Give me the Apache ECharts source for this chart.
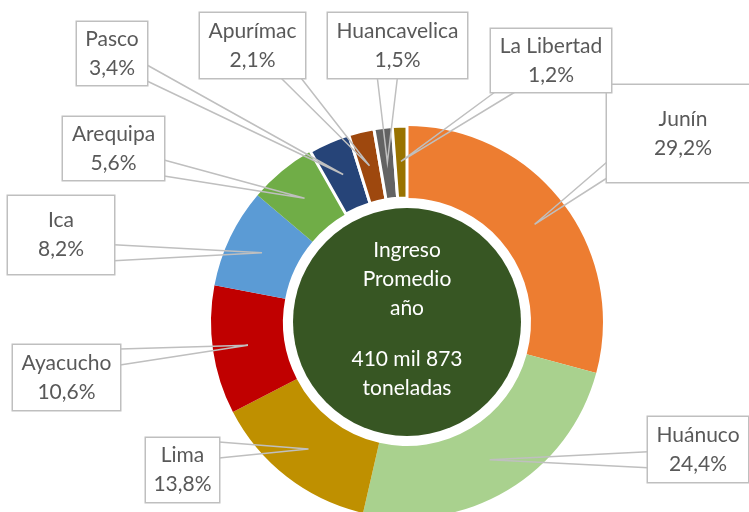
<!DOCTYPE html>
<html>
<head>
<meta charset="utf-8">
<script src="https://cdn.jsdelivr.net/npm/echarts@6/dist/echarts.min.js"></script>
<style>
    html, body { margin: 0; padding: 0; background: #ffffff; }
    #donutChart { width: 749px; height: 512px; }
</style>
</head>
<body>
<div id="donutChart"></div>
<script>
// participación (%) de cada región en el ingreso promedio anual
const regiones = ['Junín', 'Huánuco', 'Lima', 'Ayacucho', 'Ica', 'Arequipa', 'Pasco', 'Apurímac', 'Huancavelica', 'La Libertad'];
const participacion = [29.2, 24.4, 13.8, 10.6, 8.2, 5.6, 3.4, 2.1, 1.5, 1.2];
const colores = ['#ED7D31', '#A9D18E', '#BF9000', '#C00000', '#5B9BD5', '#70AD47', '#264478', '#9E480E', '#636363', '#997300'];
const textoCentro = ['Ingreso', 'Promedio', 'año', '410 mil 873', 'toneladas'];

// layout
const CENTRO = [407, 322];
const RADIO = [124, 196];
const RADIO_CIRCULO = 114;
const LH = 29;
const FUENTE = 'Lato';
// cajas de etiquetas: [izquierda, arriba, ancho, alto]
const cajas = {
    'Junín':        [607, 85, 152, 97],
    'Huánuco':      [648, 417, 100, 65],
    'Lima':         [146, 438, 73, 64],
    'Ayacucho':     [13, 345, 107, 65],
    'Ica':          [8, 196, 106, 78],
    'Arequipa':     [63, 117, 101, 63],
    'Pasco':        [77, 22, 70, 63],
    'Apurímac':     [200, 13, 105, 65],
    'Huancavelica': [328, 13, 139, 65],
    'La Libertad':  [491, 29, 120, 63]
};

function fmt(v) {
    return v.toFixed(1).replace('.', ',') + '%';
}

// punta del puntero dentro del sector
function punta(params) {
    let p0 = params.labelLinePoints && params.labelLinePoints[0];
    if (!p0) {
        const total = participacion.reduce((a, b) => a + b, 0);
        let acum = 0;
        for (let i = 0; i < params.dataIndex; i++) acum += participacion[i];
        const ang = (90 - 360 * (acum + participacion[params.dataIndex] / 2) / total) * Math.PI / 180;
        p0 = [CENTRO[0] + RADIO[1] * Math.cos(ang), CENTRO[1] - RADIO[1] * Math.sin(ang)];
    }
    const k = 0.82;
    return [CENTRO[0] + (p0[0] - CENTRO[0]) * k, CENTRO[1] + (p0[1] - CENTRO[1]) * k];
}

function clamp(v, a, b) { return Math.max(a, Math.min(b, v)); }

// sectores de color
const sectores = regiones.map(function (nombre, i) {
    return {
        name: nombre,
        value: participacion[i],
        itemStyle: i >= 6 ? { color: colores[i], borderColor: '#ffffff', borderWidth: 3 } : { color: colores[i] }
    };
});

// misma serie, transparente, solo para etiquetas y punteros (por encima)
const etiquetas = regiones.map(function (nombre, i) {
    const c = cajas[nombre];
    const pv = (c[3] - 2 * LH) / 2;
    return {
        name: nombre,
        value: participacion[i],
        label: {
            width: c[2],
            height: 2 * LH,
            padding: [pv, 0, pv, 0]
        }
    };
});

const chart = echarts.init(document.getElementById('donutChart'));
chart.setOption({
    animation: false,
    series: [
        {
            type: 'pie',
            z: 1,
            radius: [0, RADIO_CIRCULO],
            center: CENTRO,
            silent: true,
            data: [{ value: 1, name: 'centro', itemStyle: { color: '#375623' } }],
            label: {
                show: true,
                position: 'center',
                formatter: textoCentro.slice(0, 3).join('\n') + '\n{sp| }\n' + textoCentro.slice(3).join('\n'),
                color: '#ffffff',
                fontFamily: FUENTE,
                fontSize: 21,
                lineHeight: LH,
                padding: [0, 0, 5, 0],
                rich: { sp: { lineHeight: 22, fontSize: 10 } }
            },
            labelLine: { show: false }
        },
        {
            type: 'pie',
            z: 1,
            radius: RADIO,
            center: CENTRO,
            startAngle: 90,
            clockwise: true,
            silent: true,
            data: sectores,
            label: { show: false },
            labelLine: { show: false }
        },
        {
            type: 'pie',
            z: 3,
            radius: RADIO,
            center: CENTRO,
            startAngle: 90,
            clockwise: true,
            avoidLabelOverlap: false,
            silent: true,
            itemStyle: { color: 'rgba(0,0,0,0)' },
            data: etiquetas,
            label: {
                show: true,
                position: 'outside',
                formatter: function (p) { return p.name + '\n' + fmt(p.value); },
                color: '#595959',
                fontFamily: FUENTE,
                fontSize: 21,
                lineHeight: LH,
                align: 'center',
                overflow: 'none',
                backgroundColor: '#ffffff',
                borderColor: '#bfbfbf',
                borderWidth: 1.5
            },
            labelLine: {
                show: true,
                length: 10,
                length2: 10,
                lineStyle: { color: '#bfbfbf', width: 1.5 }
            },
            labelLayout: function (params) {
                const c = cajas[regiones[params.dataIndex]];
                const izq = c[0], arr = c[1], der = c[0] + c[2], aba = c[1] + c[3];
                const mx = (izq + der) / 2, my = (arr + aba) / 2;
                const t = punta(params);
                const dx = (t[0] - mx) / (c[2] / 2), dy = (t[1] - my) / (c[3] / 2);
                let a, b;
                if (Math.abs(dx) >= Math.abs(dy)) {
                    const x = dx < 0 ? izq : der;
                    const y = clamp(t[1], arr + 12, aba - 12);
                    a = [x, y - 8]; b = [x, y + 8];
                } else {
                    const y = dy < 0 ? arr : aba;
                    const x = clamp(t[0], izq + 14, der - 14);
                    a = [x - 10, y]; b = [x + 10, y];
                }
                return {
                    x: mx,
                    y: my,
                    align: 'center',
                    verticalAlign: 'middle',
                    labelLinePoints: [a, t, b]
                };
            }
        }
    ]
});
</script>
</body>
</html>
